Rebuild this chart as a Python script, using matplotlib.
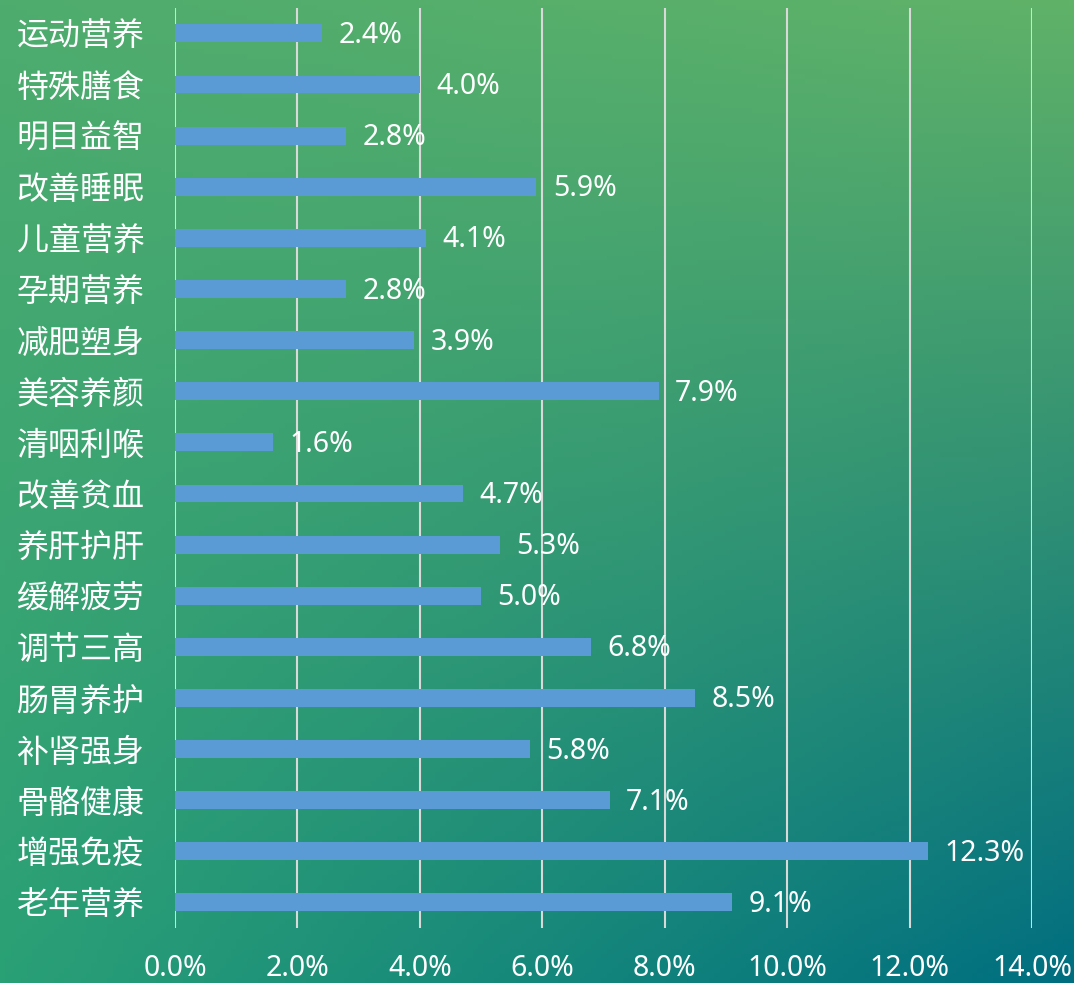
import numpy as np
import matplotlib.pyplot as plt
from matplotlib.ticker import FuncFormatter

plt.rcParams['font.family'] = ['Noto Sans CJK SC', 'DejaVu Sans']

categories = ['运动营养', '特殊膳食', '明目益智', '改善睡眠', '儿童营养', '孕期营养',
              '减肥塑身', '美容养颜', '清咽利喉', '改善贫血', '养肝护肝', '缓解疲劳',
              '调节三高', '肠胃养护', '补肾强身', '骨骼健康', '增强免疫', '老年营养']
values = [2.4, 4.0, 2.8, 5.9, 4.1, 2.8, 3.9, 7.9, 1.6, 4.7, 5.3, 5.0,
          6.8, 8.5, 5.8, 7.1, 12.3, 9.1]
xticks = [0, 2, 4, 6, 8, 10, 12, 14]

fig = plt.figure(figsize=(10.74, 9.83), dpi=100)

# background gradient (green top-left -> teal bottom-right)
tl = np.array([78, 172, 110]) / 255
tr = np.array([96, 178, 104]) / 255
bl = np.array([42, 160, 118]) / 255
br = np.array([0, 110, 128]) / 255
u = np.linspace(0, 1, 200)[None, :, None]
v = np.linspace(0, 1, 200)[:, None, None]
grad = (1 - v) * ((1 - u) * tl + u * tr) + v * ((1 - u) * bl + u * br)
bg = fig.add_axes([0, 0, 1, 1], zorder=0)
bg.imshow(grad, aspect='auto', extent=[0, 1, 0, 1], origin='upper')
bg.axis('off')

ax = fig.add_axes([0.163, 0.056, 0.798, 0.936], zorder=1)
ax.patch.set_alpha(0)

y = np.arange(len(categories))
ax.barh(y, values, height=0.35, color='#5b9bd5', zorder=3)
for yi, val in zip(y, values):
    ax.text(val + 0.27, yi + 0.04, f'{val:.1f}%', va='center', ha='left',
            color='white', fontsize=20.5, family=['Noto Sans', 'DejaVu Sans'])

ax.set_ylim(len(categories) - 0.5, -0.5)
ax.set_xlim(0, 14)
ax.set_xticks(xticks)
ax.xaxis.set_major_formatter(FuncFormatter(lambda x, p: f'{x:.1f}%'))
ax.set_yticks(y)
ax.set_yticklabels(categories, fontsize=23, color='white')
for lab in ax.get_xticklabels():
    lab.set_fontsize(20.5)
    lab.set_color('white')
    lab.set_family(['Noto Sans', 'DejaVu Sans'])
ax.tick_params(axis='y', length=0, pad=22)
ax.tick_params(axis='x', length=0, pad=19)
ax.grid(axis='x', color='#d9d9d9', linewidth=1.5, zorder=0)
for s in ax.spines.values():
    s.set_visible(False)

fig.savefig('out.png', dpi=100)
